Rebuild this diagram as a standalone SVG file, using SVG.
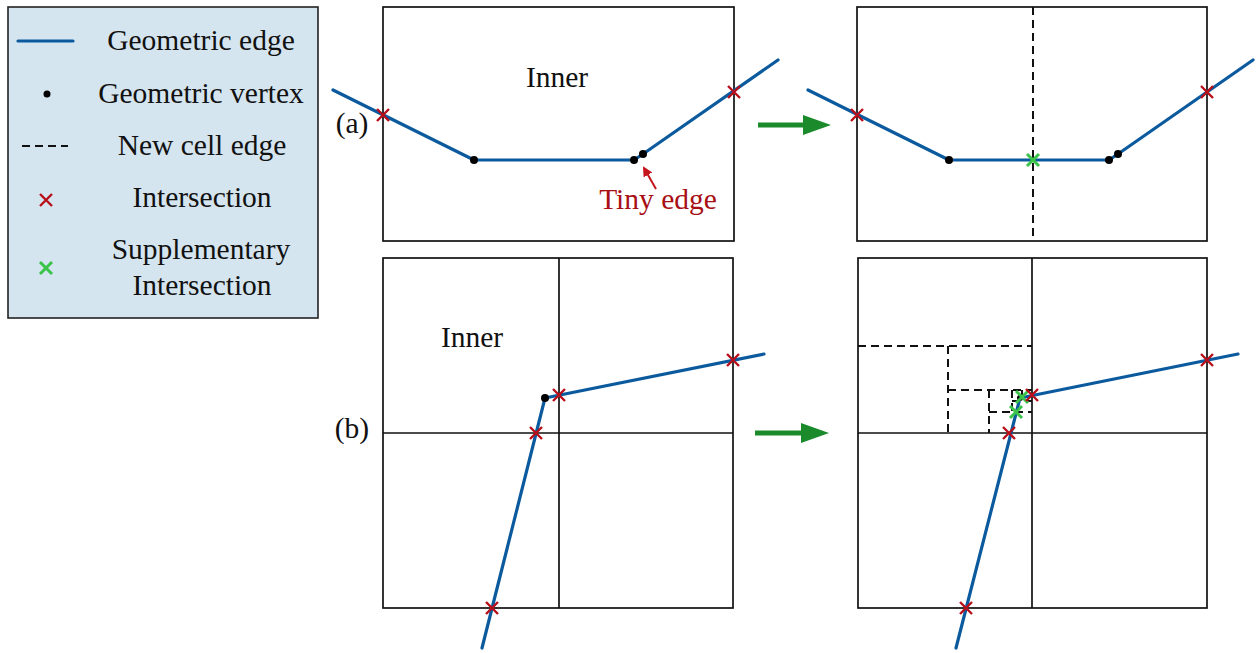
<svg xmlns="http://www.w3.org/2000/svg" width="1258" height="653" viewBox="0 0 1258 653">
<defs>
<style>
.t{font-family:"Liberation Serif","Times New Roman",serif;font-size:29.5px;fill:#111;text-anchor:middle}
.box{fill:none;stroke:#111;stroke-width:1.7}
.grid{stroke:#111;stroke-width:1.7;fill:none}
.dash{stroke:#111;stroke-width:2;stroke-dasharray:8,5;fill:none}
.edge{fill:none;stroke:#0b5a9e;stroke-width:3.2;stroke-linejoin:round;stroke-linecap:round}
.rx{stroke:#b80f1a;stroke-width:2.4;fill:none}
.gx{stroke:#3cc44a;stroke-width:3;fill:none}
.v{fill:#000}
.garrow{stroke:#1a8a2a;stroke-width:5;fill:none}
</style>
<symbol id="xr" overflow="visible"><path class="rx" d="M-6,-6L6,6M-6,6L6,-6"/></symbol>
<symbol id="xg" overflow="visible"><path class="gx" d="M-6,-6L6,6M-6,6L6,-6"/></symbol>
<marker id="ah" markerWidth="10" markerHeight="10" refX="8" refY="5" orient="auto" markerUnits="userSpaceOnUse"><path d="M0,0L10,5L0,10z" fill="#c4161c"/></marker>
</defs>
<rect width="1258" height="653" fill="#fff"/>

<g id="legend">
<rect x="8" y="7" width="310" height="311" fill="#d5e5ef" stroke="#222" stroke-width="1.6"/>
<line x1="18" y1="41" x2="73" y2="41" class="edge" stroke-linecap="butt"/>
<text class="t" x="201" y="50">Geometric edge</text>
<circle class="v" cx="47" cy="94" r="3.5"/>
<text class="t" x="201" y="103">Geometric vertex</text>
<line x1="22" y1="146" x2="68" y2="146" class="dash" stroke-dasharray="6,5"/>
<text class="t" x="202" y="155">New cell edge</text>
<use href="#xr" x="46" y="200"/>
<text class="t" x="202" y="207">Intersection</text>
<use href="#xg" x="46" y="268"/>
<text class="t" x="201" y="259">Supplementary</text>
<text class="t" x="202" y="295">Intersection</text>
</g>

<g id="panel-a-left">
<rect class="box" x="383" y="7" width="351" height="234"/>
<text class="t" x="557" y="87">Inner</text>
<text class="t" x="352" y="133">(a)</text>
<polyline class="edge" points="333,90 474,160 634,160 643,154 778,60"/>
<circle class="v" cx="474" cy="160" r="4"/>
<circle class="v" cx="634" cy="160" r="4"/>
<circle class="v" cx="643" cy="154" r="4"/>
<use href="#xr" x="383" y="115"/>
<use href="#xr" x="734" y="92"/>
<text class="t" x="658" y="209" style="fill:#a80f14">Tiny edge</text>
<line x1="656" y1="189" x2="644" y2="168" stroke="#c4161c" stroke-width="2" marker-end="url(#ah)"/>
</g>

<g id="panel-a-right">
<rect class="box" x="857" y="7" width="350" height="234"/>
<line class="dash" x1="1033" y1="7" x2="1033" y2="241"/>
<polyline class="edge" points="808,90 949,160 1109,160 1118,154 1253,60"/>
<circle class="v" cx="949" cy="160" r="4"/>
<circle class="v" cx="1109" cy="160" r="4"/>
<circle class="v" cx="1118" cy="154" r="4"/>
<use href="#xr" x="857" y="115"/>
<use href="#xr" x="1207" y="92"/>
<use href="#xg" x="1033" y="160"/>
</g>

<g id="panel-b-left">
<rect class="box" x="383" y="258" width="350" height="350"/>
<line class="grid" x1="559" y1="258" x2="559" y2="608"/>
<line class="grid" x1="383" y1="433" x2="733" y2="433"/>
<text class="t" x="472" y="347">Inner</text>
<text class="t" x="352" y="438">(b)</text>
<polyline class="edge" points="482,648 545,398 764,354"/>
<circle class="v" cx="545" cy="398" r="4"/>
<use href="#xr" x="492" y="608"/>
<use href="#xr" x="536" y="433"/>
<use href="#xr" x="559" y="395"/>
<use href="#xr" x="733" y="360"/>
</g>

<g id="panel-b-right">
<rect class="box" x="858" y="258" width="349" height="350"/>
<line class="grid" x1="1032" y1="258" x2="1032" y2="608"/>
<line class="grid" x1="858" y1="433" x2="1207" y2="433"/>
<path class="dash" d="M858,346H1032M948,346V433M948,390H1032M989,390V433M989,412H1032M1012,390V412M1012,401H1032M1022,390V401"/>
<polyline class="edge" points="956,648 1020,398 1238,354"/>
<circle class="v" cx="1020" cy="398" r="3"/>
<use href="#xr" x="966" y="608"/>
<use href="#xr" x="1009" y="433"/>
<use href="#xg" x="1016" y="412"/>
<use href="#xg" x="1022" y="397"/>
<use href="#xr" x="1032" y="395"/>
<use href="#xr" x="1207" y="360"/>
</g>

<g id="connectors">
<line class="garrow" x1="758" y1="125" x2="808" y2="125"/>
<path d="M803,115L831,125L803,135z" fill="#1a8a2a"/>
<line class="garrow" x1="755" y1="433" x2="806" y2="433"/>
<path d="M801,423L829,433L801,443z" fill="#1a8a2a"/>
</g>
</svg>
